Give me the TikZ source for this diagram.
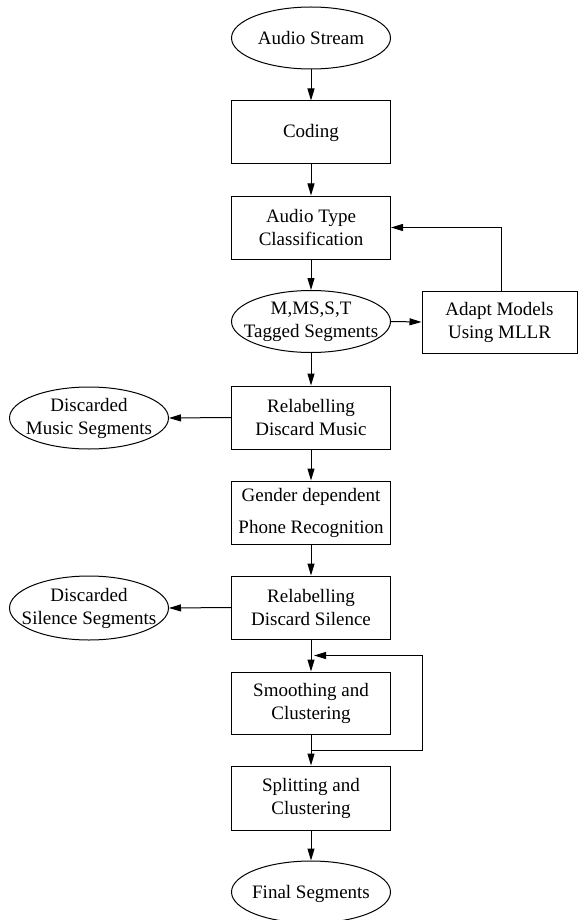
\documentclass[tikz,border=0pt]{standalone}
\usepackage{fontspec}
\setmainfont{Liberation Serif}
\usetikzlibrary{arrows.meta,shapes.geometric,calc}
\begin{document}
\begin{tikzpicture}[x=1pt,y=-1pt,
  every node/.style={font=\fontsize{19}{23}\selectfont},
  box/.style={draw, line width=1pt, rectangle, minimum width=159pt, minimum height=63pt, inner sep=0pt, align=center},
  oval/.style={draw, line width=1pt, ellipse, minimum width=159pt, minimum height=62pt, inner sep=0pt},
  txt/.style={align=center, inner sep=0pt},
  arr/.style={draw, line width=1pt, -{Triangle[length=12pt,width=7pt]}}]
\useasboundingbox (0,0) rectangle (578,920);

% main column
\node[oval] (audio) at (311,38) {};
\node[txt] at (audio) {Audio Stream};
\node[box] (coding) at (311,132.5) {Coding};
\node[box] (atc) at (311,227.5) {Audio Type\\Classification};
\node[oval] (ms) at (311,321.5) {};
\node[txt] at (ms) {M,MS,S,T\\Tagged Segments};
\node[box, minimum width=155pt, minimum height=62pt] (adapt) at (499.5,322) {Adapt Models\\Using MLLR};
\node[box] (relabm) at (311,417.5) {Relabelling\\Discard Music};
\node[oval] (dm) at (89,418) {};
\node[txt] at (dm) {Discarded\\Music Segments};
\node[box] (gender) at (311,512.5) {Gender dependent\\[9pt]Phone Recognition};
\node[box] (relabs) at (311,607.5) {Relabelling\\Discard Silence};
\node[oval, minimum height=64pt] (ds) at (89,608) {};
\node[txt] at (ds) {Discarded\\Silence Segments};
\node[box, minimum height=62pt] (smooth) at (311,703) {Smoothing and\\Clustering};
\node[box, minimum height=64pt] (split) at (311,798) {Splitting and\\Clustering};
\node[oval] (final) at (311,892) {};
\node[txt] at ($(final)+(0,2)$) {Final Segments};

\coordinate (loopin) at ($(relabs.south)!0.5!(smooth.north)$);
\coordinate (loopout) at ($(smooth.south)!0.5!(split.north)$);
\coordinate (loopright) at (422,0);

% connectors
\draw[arr] (audio) -- (coding);
\draw[arr] (coding) -- (atc);
\draw[arr] (atc) -- (ms);
\draw[arr] (ms.east) -- (adapt.west);
\draw[arr] ($(adapt.north)+(1.5,0)$) |- (atc.east);
\draw[arr] (ms) -- (relabm);
\draw[arr] (relabm.west) -- (dm.east);
\draw[arr] (relabm) -- (gender);
\draw[arr] (gender) -- (relabs);
\draw[arr] (relabs.west) -- (ds.east);
\draw[arr] (relabs) -- (smooth);
\draw[arr] (smooth) -- (split);
\draw[arr, shorten >=3pt] (loopout) -- (loopout -| loopright) -- (loopin -| loopright) -- (loopin);
\draw[arr] (split) -- (final);
\end{tikzpicture}
\end{document}
